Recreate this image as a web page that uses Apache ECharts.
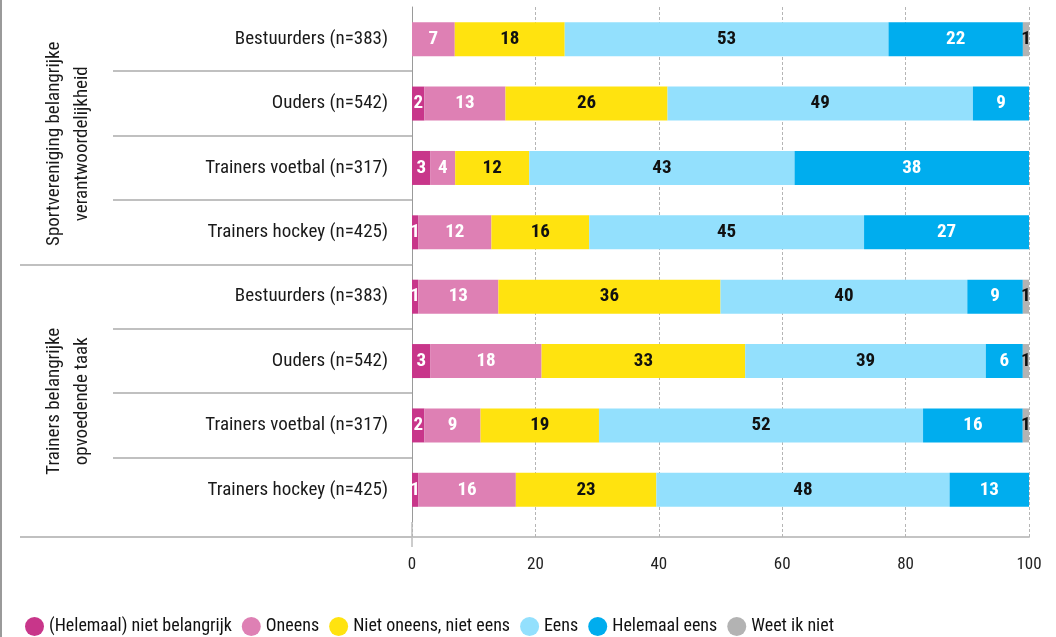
<!DOCTYPE html>
<html>
<head>
<meta charset="utf-8">
<script src="https://cdn.jsdelivr.net/npm/echarts@6/dist/echarts.min.js"></script>
<style>
html, body { margin: 0; padding: 0; background: #fff; }
#chart { width: 1056px; height: 637px; }
</style>
</head>
<body>
<div id="chart"></div>
<script>
var FONT = "'Roboto Condensed', 'Liberation Sans Narrow', 'Arial Narrow', 'DejaVu Sans Condensed', sans-serif";

// rijen van boven naar beneden
var respondents = [
    'Bestuurders (n=383)', 'Ouders (n=542)', 'Trainers voetbal (n=317)', 'Trainers hockey (n=425)',
    'Bestuurders (n=383)', 'Ouders (n=542)', 'Trainers voetbal (n=317)', 'Trainers hockey (n=425)'
];
var groups = [
    'Sportvereniging belangrijke\nverantwoordelijkheid',
    'Trainers belangrijke\nopvoedende taak'
];
var answers = ['(Helemaal) niet belangrijk', 'Oneens', 'Niet oneens, niet eens', 'Eens', 'Helemaal eens', 'Weet ik niet'];
var colors = ['#c8368a', '#de80b4', '#ffe30f', '#93e0fd', '#00adee', '#b3b3b3'];
var labelColors = ['#fff', '#fff', '#111', '#111', '#fff', '#111'];

// percentages zoals in de labels
var nietBelangrijk = [0, 2, 3, 1, 1, 3, 2, 1];
var oneens = [7, 13, 4, 12, 13, 18, 9, 16];
var neutraal = [18, 26, 12, 16, 36, 33, 19, 23];
var eens = [53, 49, 43, 45, 40, 39, 52, 48];
var helemaalEens = [22, 9, 38, 27, 9, 6, 16, 13];
var weetNiet = [1, 0, 0, 0, 1, 1, 1, 0];
var xTicks = [0, 20, 40, 60, 80, 100];

var values = [nietBelangrijk, oneens, neutraal, eens, helemaalEens, weetNiet];

// afgeronde waarden tellen niet altijd op tot 100: balken schalen naar 100
var totals = respondents.map(function (r, i) {
    var s = 0;
    values.forEach(function (v) { s += v[i]; });
    return s;
});

var myChart = echarts.init(document.getElementById('chart'));

var series = answers.map(function (name, k) {
    return {
        name: name,
        type: 'bar',
        stack: 'totaal',
        barWidth: 34,
        itemStyle: { color: colors[k] },
        label: {
            show: true,
            position: 'inside',
            color: labelColors[k],
            fontFamily: FONT,
            fontWeight: 'bold',
            fontSize: 19,
            formatter: function (p) {
                var v = values[k][p.dataIndex];
                return v ? String(v) : '';
            }
        },
        data: values[k].map(function (v, i) { return v / totals[i] * 100; })
    };
});

var option = {
    animation: false,
    grid: { left: 412, right: 27, top: 7, bottom: 115 },
    legend: {
        left: 20,
        top: 612,
        icon: 'circle',
        itemWidth: 19,
        itemHeight: 19,
        itemGap: 10,
        textStyle: { fontFamily: FONT, fontSize: 18, color: '#111' },
        data: answers
    },
    xAxis: {
        type: 'value',
        min: 0,
        max: 100,
        interval: 20,
        offset: 15,
        axisLine: { show: true, lineStyle: { color: '#c4c4c4', width: 2 } },
        axisTick: { show: true, inside: true, length: 15, lineStyle: { color: '#b5b5b5', type: [3, 2] } },
        splitLine: { show: true, lineStyle: { color: '#b5b5b5', type: [3, 2] } },
        axisLabel: {
            margin: 19,
            fontFamily: FONT,
            fontSize: 17,
            color: '#222',
            formatter: function (v) { return xTicks.indexOf(v) >= 0 ? String(v) : ''; }
        }
    },
    yAxis: {
        type: 'category',
        inverse: true,
        data: respondents,
        axisLine: { show: true, lineStyle: { color: '#9a9a9a' } },
        axisTick: { show: false },
        axisLabel: { margin: 24, fontFamily: FONT, fontSize: 19, color: '#1a1a1a' }
    },
    series: series
};

myChart.setOption(option);

// scheidingslijnen en groepslabels op basis van de as
var yPix = function (i) { return myChart.convertToPixel({ yAxisIndex: 0 }, i); };
var x0 = myChart.convertToPixel({ xAxisIndex: 0 }, 0);
var band = yPix(1) - yPix(0);
var lineStyle = { stroke: '#c0c0c0', lineWidth: 2 };
var graphics = [];

for (var i = 1; i < respondents.length; i++) {
    var y = Math.round((yPix(i - 1) + yPix(i)) / 2);
    graphics.push({
        type: 'line',
        shape: { x1: i === 4 ? 20 : 113, y1: y, x2: x0, y2: y },
        style: lineStyle
    });
}
var yGrid = yPix(respondents.length - 1) + band / 2;
var yBottom = Math.round(yGrid) + 15;
graphics.push({
    type: 'line',
    shape: { x1: 20, y1: yBottom, x2: x0, y2: yBottom },
    style: lineStyle
});
// verticale as doorgetrokken tot onder de x-as
graphics.push({
    type: 'line',
    shape: { x1: x0, y1: yGrid, x2: x0, y2: yBottom + 10 },
    style: { stroke: '#9a9a9a', lineWidth: 1 }
});
graphics.push({
    type: 'line',
    shape: { x1: 1, y1: 0, x2: 1, y2: 637 },
    style: { stroke: '#9a9a9a', lineWidth: 2 }
});

groups.forEach(function (g, gi) {
    var mid = (yPix(gi * 4) + yPix(gi * 4 + 3)) / 2 + 8;
    graphics.push({
        type: 'text',
        x: 68,
        y: mid,
        rotation: Math.PI / 2,
        style: {
            text: g,
            fontFamily: FONT,
            fontSize: 19,
            lineHeight: 28,
            fill: '#1a1a1a',
            align: 'center',
            verticalAlign: 'middle'
        }
    });
});

myChart.setOption({ graphic: graphics });
</script>
</body>
</html>
